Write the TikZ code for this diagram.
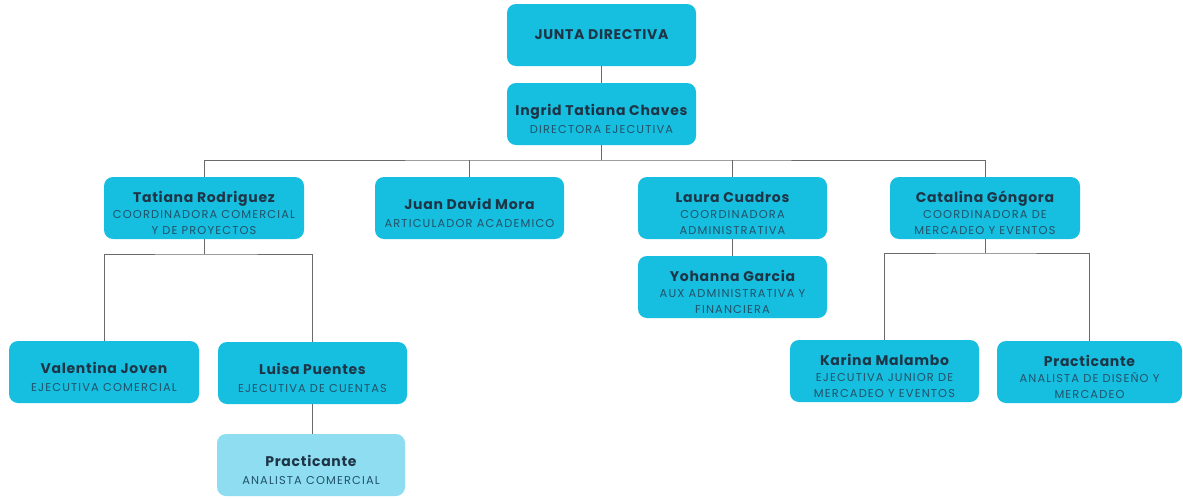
\documentclass[tikz,border=0pt]{standalone}
\usepackage{fontspec}
\setmainfont{Poppins}
\newfontfamily\namefont[LetterSpace=5]{Poppins}
\newfontfamily\subfont[LetterSpace=10]{Poppins}
\definecolor{boxc}{HTML}{16BEDF}
\definecolor{boxl}{HTML}{8EDDF0}
\definecolor{namec}{HTML}{1E3547}
\definecolor{subc}{HTML}{22526A}
\definecolor{linec}{HTML}{6A6A6A}
\newcommand{\orgtitle}[1]{{\namefont\fontsize{14}{16.5}\selectfont\bfseries\color{namec}#1}}
\newcommand{\orgname}[1]{\rule{0pt}{21.5pt}{\namefont\fontsize{14}{16.5}\selectfont\bfseries\color{namec}#1}}
\newcommand{\orgsub}[1]{{\subfont\fontsize{11.4}{16.5}\selectfont\color{subc}#1}}
\begin{document}
\begin{tikzpicture}[x=1pt,y=-1pt,
  orgbox/.style={rectangle, rounded corners=9pt, fill=boxc, minimum width=189pt, minimum height=62pt, inner sep=0pt, align=center, font=\fontsize{11.4}{16.5}\selectfont},
  lightbox/.style={orgbox, fill=boxl},
  conn/.style={draw=linec, line width=1pt}]
\useasboundingbox (0,0) rectangle (1183,498);
\fill[white] (0,0) rectangle (1183,498);

\node[orgbox] (junta) at (601.5,35) {\orgtitle{JUNTA DIRECTIVA}};
\node[orgbox] (ingrid) at (601.5,114) {\orgname{Ingrid Tatiana Chaves}\\[1.5pt]\orgsub{DIRECTORA EJECUTIVA}};

\node[orgbox, minimum width=200pt] (tat) at (204,208) {\orgname{Tatiana Rodriguez}\\[0pt]\orgsub{COORDINADORA COMERCIAL}\\[-0.5pt]\orgsub{Y DE PROYECTOS}};
\node[orgbox] (juan) at (469.5,208) {\orgname{Juan David Mora}\\[1.5pt]\orgsub{ARTICULADOR ACADEMICO}};
\node[orgbox] (laura) at (732.5,208) {\orgname{Laura Cuadros}\\[0pt]\orgsub{COORDINADORA}\\[-0.5pt]\orgsub{ADMINISTRATIVA}};
\node[orgbox, minimum width=190pt] (cat) at (985,208) {\orgname{Catalina Góngora}\\[0pt]\orgsub{COORDINADORA DE}\\[-0.5pt]\orgsub{MERCADEO Y EVENTOS}};

\node[orgbox] (yoh) at (732.5,287) {\orgname{Yohanna Garcia}\\[0pt]\orgsub{AUX ADMINISTRATIVA Y}\\[-0.5pt]\orgsub{FINANCIERA}};

\node[orgbox, minimum width=190pt] (val) at (104,372) {\orgname{Valentina Joven}\\[1.5pt]\orgsub{EJECUTIVA COMERCIAL}};
\node[orgbox] (lui) at (312.5,373) {\orgname{Luisa Puentes}\\[1.5pt]\orgsub{EJECUTIVA DE CUENTAS}};
\node[lightbox, minimum width=188pt] (pr1) at (311,465) {\orgname{Practicante}\\[1.5pt]\orgsub{ANALISTA COMERCIAL}};

\node[orgbox] (kar) at (884.5,371) {\orgname{Karina Malambo}\\[0pt]\orgsub{EJECUTIVA JUNIOR DE}\\[-0.5pt]\orgsub{MERCADEO Y EVENTOS}};
\node[orgbox, minimum width=185pt] (pr2) at (1089.5,372) {\orgname{Practicante}\\[0pt]\orgsub{ANALISTA DE DISEÑO Y}\\[-0.5pt]\orgsub{MERCADEO}};

\coordinate (bus) at (601.5,160);
\coordinate (tb) at (204,254);
\coordinate (cb) at (985,253);

\draw[conn] (junta.south) -- (ingrid.north);
\draw[conn] (ingrid.south) -- (bus);
\draw[conn] (tat.north) |- (bus) -| (cat.north);
\draw[conn] (juan.north) -- (juan.north |- bus);
\draw[conn] (laura.north) -- (laura.north |- bus);
\draw[conn] (laura.south) -- (yoh.north);
\draw[conn] (tat.south) -- (tb);
\draw[conn] (val.north) |- (tb) -| (lui.north);
\draw[conn] (lui.south) -- (lui.south |- pr1.north);
\draw[conn] (cat.south) -- (cb);
\draw[conn] (kar.north) |- (cb) -| (pr2.north);
\end{tikzpicture}
\end{document}
